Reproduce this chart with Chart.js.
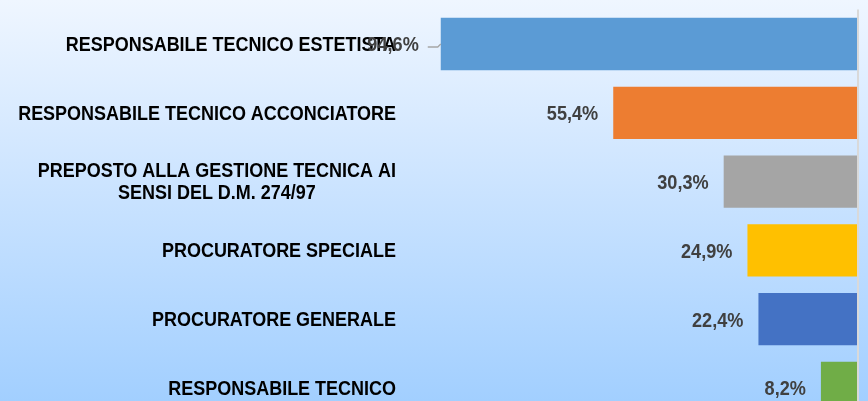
<!DOCTYPE html>
<html>
<head>
<meta charset="utf-8">
<script src="https://cdn.jsdelivr.net/npm/chart.js@4/dist/chart.umd.min.js"></script>
<style>
  html, body { margin: 0; padding: 0; width: 868px; height: 401px; overflow: hidden; }
  body { background: linear-gradient(to bottom, #eff6ff 0px, #d4e8ff 140px, #a2cfff 401px); }
  #wrap { position: absolute; left: 0; top: 0; width: 868px; height: 432px; }
</style>
</head>
<body>
<div id="wrap"><canvas id="c" width="868" height="432"></canvas></div>
<script>
const categories = [
  ["RESPONSABILE TECNICO ESTETISTA"],
  ["RESPONSABILE TECNICO ACCONCIATORE"],
  ["PREPOSTO ALLA GESTIONE TECNICA AI", "SENSI DEL D.M. 274/97"],
  ["PROCURATORE SPECIALE"],
  ["PROCURATORE GENERALE"],
  ["RESPONSABILE TECNICO"]
];
const values = [94.6, 55.4, 30.3, 24.9, 22.4, 8.2];
const barColors = ["#5b9bd5", "#ed7d31", "#a5a5a5", "#ffc000", "#4472c4", "#70ad47"];

const CAT_FONT = "bold 21px 'Liberation Sans', Arial, sans-serif";
const VAL_FONT = "bold 19.5px 'Liberation Sans', Arial, sans-serif";
const CAT_SX = 0.856;
const VAL_SX = 0.93;

function drawText(ctx, txt, x, y, align, sx) {
  const w = ctx.measureText(txt).width * sx;
  let left = x;
  if (align === 'right') left = x - w;
  else if (align === 'center') left = x - w / 2;
  ctx.save();
  ctx.translate(left, y);
  ctx.scale(sx, 1);
  ctx.textAlign = 'left';
  ctx.fillText(txt, 0, 0);
  ctx.restore();
  return w;
}

const labelsPlugin = {
  id: 'labelsPlugin',
  afterDatasetsDraw(chart) {
    const ctx = chart.ctx;
    const xs = chart.scales.x, ys = chart.scales.y;
    const area = chart.chartArea;
    const x0 = xs.getPixelForValue(0);
    ctx.save();
    ctx.strokeStyle = '#d9d9d9';
    ctx.lineWidth = 2;
    ctx.beginPath();
    ctx.moveTo(x0 + 1, area.top);
    ctx.lineTo(x0 + 1, area.bottom);
    ctx.stroke();

    ctx.font = CAT_FONT;
    ctx.textBaseline = 'middle';
    ctx.fillStyle = '#000000';
    const labelRight = 396;
    const lineH = 22;
    categories.forEach((lines, i) => {
      const cy = ys.getPixelForValue(i);
      const widths = lines.map(l => ctx.measureText(l).width * CAT_SX);
      const maxW = Math.max(...widths);
      const centerX = labelRight - maxW / 2;
      lines.forEach((l, k) => {
        const y = cy + (k - (lines.length - 1) / 2) * lineH + 1;
        drawText(ctx, l, centerX, y, 'center', CAT_SX);
      });
    });

    const meta = chart.getDatasetMeta(0);
    ctx.font = VAL_FONT;
    ctx.fillStyle = '#404040';
    meta.data.forEach((bar, i) => {
      const txt = values[i].toFixed(1).replace('.', ',') + '%';
      const w = ctx.measureText(txt).width * VAL_SX;
      const end = bar.x;
      const cy = bar.y;
      let right = end - 15;
      if (right - w < area.left) {
        right = end - 22;
        ctx.save();
        ctx.strokeStyle = '#a6a6a6';
        ctx.lineWidth = 1.3;
        ctx.beginPath();
        ctx.moveTo(right + 9, cy + 3);
        ctx.lineTo(end - 3, cy + 3);
        ctx.lineTo(end, cy);
        ctx.stroke();
        ctx.restore();
      }
      drawText(ctx, txt, right, cy + 2, 'right', VAL_SX);
    });
    ctx.restore();
  }
};

new Chart(document.getElementById('c'), {
  type: 'bar',
  data: {
    labels: categories,
    datasets: [{
      data: values,
      backgroundColor: barColors,
      borderWidth: 0,
      categoryPercentage: 0.76,
      barPercentage: 1
    }]
  },
  options: {
    indexAxis: 'y',
    responsive: false,
    animation: false,
    events: [],
    layout: { padding: { left: 417, right: 11, top: 9.6, bottom: 9.6 } },
    plugins: { legend: { display: false }, tooltip: { enabled: false } },
    scales: {
      x: { display: false, min: 0, max: 100, reverse: true },
      y: { display: false }
    }
  },
  plugins: [labelsPlugin]
});
</script>
</body>
</html>
